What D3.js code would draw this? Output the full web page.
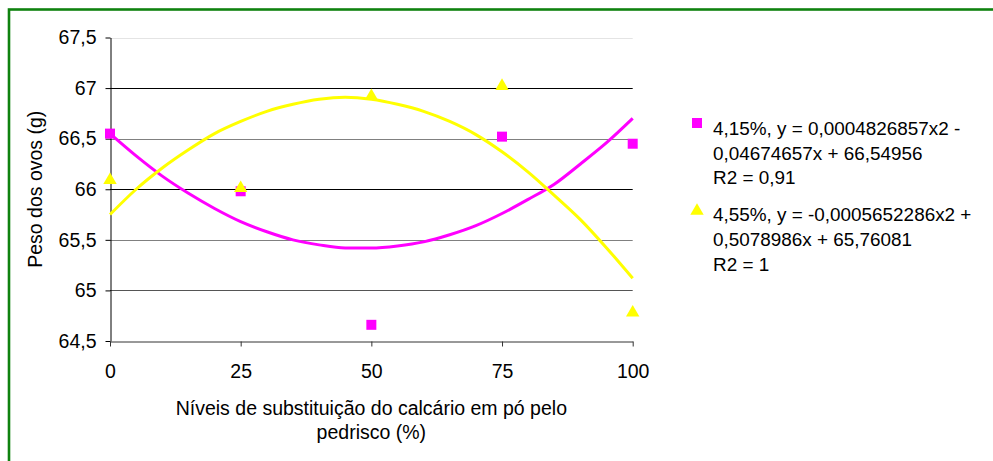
<!DOCTYPE html>
<html>
<head>
<meta charset="utf-8">
<script src="https://cdn.jsdelivr.net/npm/d3@7"></script>
<style>
  html, body { margin: 0; padding: 0; background: #fff; }
  svg { display: block; font-family: "Liberation Sans", Arial, sans-serif; }
</style>
</head>
<body>
<svg id="chart" width="993" height="461"></svg>
<script>
// ---- Data ----
const categories = [0, 25, 50, 75, 100];
const seriesNames = ["4,15%", "4,55%"];
const values415 = [66.55, 65.98, 64.66, 66.52, 66.45];
const values455 = [66.09, 66.01, 66.92, 67.02, 64.78];
const trendX = [0, 5, 10, 15, 20, 25, 30, 35, 40, 45, 50, 55, 60, 65, 70, 75, 80, 85, 90, 95, 100];
const trend415 = [66.55, 66.33, 66.13, 65.96, 65.81, 65.68, 65.58, 65.50, 65.45, 65.42, 65.42, 65.44, 65.48, 65.55, 65.64, 65.76, 65.90, 66.05, 66.25, 66.46, 66.70];
const trend455 = [65.75, 66.00, 66.21, 66.39, 66.55, 66.67, 66.77, 66.84, 66.89, 66.91, 66.89, 66.84, 66.77, 66.67, 66.54, 66.37, 66.17, 65.94, 65.70, 65.42, 65.12];
const yTicks = [64.5, 65, 65.5, 66, 66.5, 67, 67.5];
const xTicks = [0, 25, 50, 75, 100];
const legend415 = ["4,15%, y = 0,0004826857x2 -", "0,04674657x + 66,54956", "R2 = 0,91"];
const legend455 = ["4,55%, y = -0,0005652286x2 +", "0,5078986x + 65,76081", "R2 = 1"];
const yTitle = "Peso dos ovos (g)";
const xTitle = ["Níveis de substituição do calcário em pó pelo", "pedrisco (%)"];

// ---- Styles ----
const pink = "#ff00ff", yellow = "#ffff00";
const fontSize = "19.5px";
const legendFontSize = "18.9px";
const gridColors = {"65": "#555", "65.5": "#808080", "66": "#000", "66.5": "#808080", "67": "#000", "67.5": "#e4e4e4"};

const svg = d3.select("#chart");
const x = d3.scaleLinear().domain([0, 100]).range([110, 632.7]);
const y = d3.scaleLinear().domain([64.5, 67.5]).range([341, 37.5]);
const locale = d3.formatLocale({decimal: ",", thousands: ".", grouping: [3], currency: ["", ""]});
const fmt = v => locale.format("~g")(v);

// outer green border
svg.append("rect").attr("x", 9).attr("y", 9.5).attr("width", 1100).attr("height", 600)
  .attr("fill", "none").attr("stroke", "#0f820f").attr("stroke-width", 2.6);

// gridlines
svg.append("g").selectAll("line").data(yTicks.filter(d => d > 64.5)).join("line")
  .attr("x1", x(0)).attr("x2", x(100))
  .attr("y1", d => Math.round(y(d)) + 0.5).attr("y2", d => Math.round(y(d)) + 0.5)
  .attr("stroke", d => gridColors[String(d)]).attr("stroke-width", 1);

// y axis
const yAxis = svg.append("g").attr("transform", "translate(110.5,0)")
  .call(d3.axisLeft(y).tickValues(yTicks).tickSize(5).tickSizeOuter(0).tickPadding(9).tickFormat(fmt));
yAxis.select(".domain").attr("stroke", "#000");
yAxis.selectAll(".tick line").attr("stroke", "#000");
yAxis.selectAll("text").attr("font-size", fontSize).attr("fill", "#000")
  .attr("font-family", "Liberation Sans, Arial, sans-serif");

// x axis
const xAxis = svg.append("g").attr("transform", "translate(0,341.5)")
  .call(d3.axisBottom(x).tickValues(xTicks).tickSize(5).tickSizeOuter(0).tickPadding(18).tickFormat(fmt));
xAxis.select(".domain").attr("stroke", "#333");
xAxis.selectAll(".tick line").attr("stroke", "#333");
xAxis.selectAll("text").attr("font-size", fontSize).attr("fill", "#000")
  .attr("font-family", "Liberation Sans, Arial, sans-serif");

// trend lines
const line = d3.line().x((d, i) => x(trendX[i])).y(d => y(d)).curve(d3.curveMonotoneX);
svg.append("path").attr("d", line(trend415)).attr("fill", "none").attr("stroke", pink).attr("stroke-width", 3);
svg.append("path").attr("d", line(trend455)).attr("fill", "none").attr("stroke", yellow).attr("stroke-width", 3);

// markers
const sq = d3.symbol().type(d3.symbolSquare).size(100);
const tri = d3.symbol().type(d3.symbolTriangle).size(78);
svg.append("g").selectAll("path").data(values415).join("path")
  .attr("d", sq).attr("transform", (d, i) => `translate(${x(categories[i])},${y(d)})`).attr("fill", pink);
svg.append("g").selectAll("path").data(values455).join("path")
  .attr("d", tri).attr("transform", (d, i) => `translate(${x(categories[i])},${y(d)})`).attr("fill", yellow);

// axis titles
svg.append("text").attr("transform", `translate(42,${(y(64.5) + y(67.5)) / 2}) rotate(-90)`)
  .attr("text-anchor", "middle").attr("font-size", fontSize).attr("fill", "#000").text(yTitle);
svg.append("g").selectAll("text").data(xTitle).join("text")
  .attr("x", (x(0) + x(100)) / 2).attr("y", (d, i) => 415 + i * 24)
  .attr("text-anchor", "middle").attr("font-size", fontSize).attr("fill", "#000").text(d => d);

// legend
const legend = svg.append("g");
legend.append("path").attr("d", sq).attr("transform", "translate(697,123)").attr("fill", pink);
legend.append("path").attr("d", tri).attr("transform", "translate(697,211)").attr("fill", yellow);
legend.append("g").selectAll("text").data(legend415).join("text")
  .attr("x", 713).attr("y", (d, i) => 135 + i * 24.5).attr("font-size", legendFontSize).attr("fill", "#000").text(d => d);
legend.append("g").selectAll("text").data(legend455).join("text")
  .attr("x", 713).attr("y", (d, i) => 221 + i * 25).attr("font-size", legendFontSize).attr("fill", "#000").text(d => d);
</script>
</body>
</html>
